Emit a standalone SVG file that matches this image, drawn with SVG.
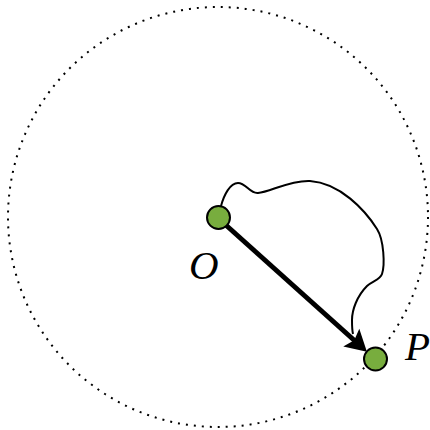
<svg xmlns="http://www.w3.org/2000/svg" width="430" height="430" viewBox="0 0 430 430">
<style>
.node{fill:#78ad3e;stroke:#000;stroke-width:2}
.lbl{font-family:"Liberation Serif",serif;font-style:italic;font-size:41px;fill:#000}
.path{fill:none;stroke:#000;stroke-width:2}
.vec{fill:none;stroke:#000;stroke-width:5}
.ring{fill:none;stroke:#000;stroke-width:2;stroke-dasharray:2 6}
</style>
<defs>
<marker id="ah" markerUnits="userSpaceOnUse" markerWidth="30" markerHeight="30" refX="5" refY="0" viewBox="-2 -15 30 30" orient="auto">
<path d="M0,-12 L21,0 L0,12 L4,0 z" fill="#000"/>
</marker>
</defs>
<circle class="ring" cx="218" cy="217" r="210"/>
<g id="connectors">
<path class="path" d="M221,206 C224,195 230,183 238,183 C246,183 250,194 258,193 C270,192 290,180 310,181 C340,183 365,210 377,229 C384,240 385,265 382,274 C380,280 372,281 367,286 C357,296 352,310 352,320 C352,326 352,330 353,334"/>
<line class="vec" x1="218" y1="218" x2="355" y2="341" marker-end="url(#ah)"/>
</g>
<g id="O">
<circle class="node" cx="218.5" cy="217.5" r="11.5"/>
<text class="lbl" x="189" y="279">O</text>
</g>
<g id="P">
<circle class="node" cx="375.5" cy="359" r="11.5"/>
<text class="lbl" x="405" y="360">P</text>
</g>
</svg>
